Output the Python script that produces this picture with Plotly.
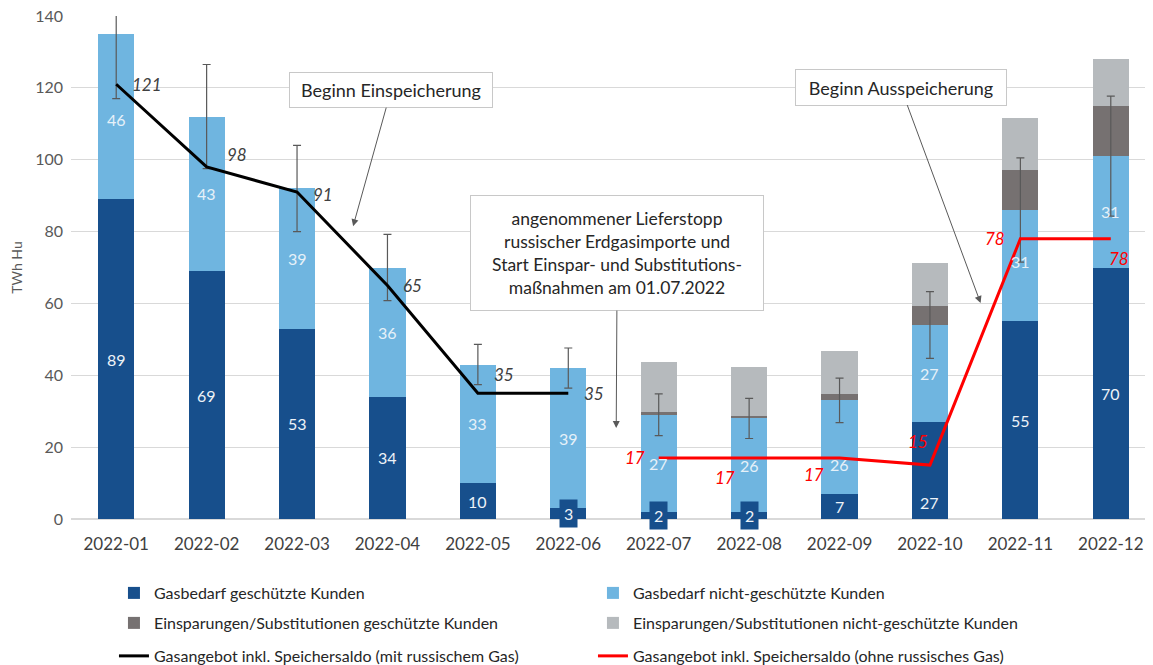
import plotly.graph_objects as go

# monthly gas balance 2022 (TWh Hu)
monate = ["2022-01", "2022-02", "2022-03", "2022-04", "2022-05", "2022-06",
          "2022-07", "2022-08", "2022-09", "2022-10", "2022-11", "2022-12"]
bedarf_geschuetzt = [89, 69, 53, 34, 10, 3, 2, 2, 7, 27, 55, 70]
bedarf_nicht_geschuetzt = [46, 43, 39, 36, 33, 39, 27, 26, 26, 27, 31, 31]
einsparung_geschuetzt = [0, 0, 0, 0, 0, 0, 0.7, 0.7, 1.8, 5.3, 11, 14]
einsparung_nicht_geschuetzt = [0, 0, 0, 0, 0, 0, 14, 13.5, 12, 12, 14.5, 13]
fehler = [18, 14.5, 12, 9.2, 5.6, 5.6, 5.8, 5.6, 6.2, 9.3, 14.5, 16.7]
angebot_mit_russ = [121, 98, 91, 65, 35, 35]
angebot_ohne_russ = [17, 17, 17, 15, 78, 78]

FONT = "Lato"
DUNKELBLAU = "#174f8c"
HELLBLAU = "#6fb5e0"
DUNKELGRAU = "#767171"
HELLGRAU = "#b6babd"

bedarf_summe = [a + b for a, b in zip(bedarf_geschuetzt, bedarf_nicht_geschuetzt)]

fig = go.Figure()

fig.add_trace(go.Bar(
    x=monate, y=bedarf_geschuetzt, name="Gasbedarf geschützte Kunden",
    marker=dict(color=DUNKELBLAU, line=dict(width=0)), legend="legend",
))
fig.add_trace(go.Bar(
    x=monate, y=bedarf_nicht_geschuetzt, name="Gasbedarf nicht-geschützte Kunden",
    marker=dict(color=HELLBLAU, line=dict(width=0)), legend="legend",
))
fig.add_trace(go.Bar(
    x=monate, y=einsparung_geschuetzt, name="Einsparungen/Substitutionen geschützte Kunden",
    marker=dict(color=DUNKELGRAU, line=dict(width=0)), legend="legend2",
))
fig.add_trace(go.Bar(
    x=monate, y=einsparung_nicht_geschuetzt, name="Einsparungen/Substitutionen nicht-geschützte Kunden",
    marker=dict(color=HELLGRAU, line=dict(width=0)), legend="legend2",
))

# error bars around total demand
fig.add_trace(go.Scatter(
    x=monate, y=bedarf_summe, mode="markers", marker=dict(size=1, opacity=0),
    error_y=dict(type="data", array=fehler, color="#595959", thickness=1.2, width=4),
    showlegend=False, hoverinfo="skip",
))

fig.add_trace(go.Scatter(
    x=monate[:6], y=angebot_mit_russ, mode="lines",
    name="Gasangebot inkl. Speichersaldo (mit russischem Gas)",
    line=dict(color="black", width=3), legend="legend3",
))
fig.add_trace(go.Scatter(
    x=monate[6:], y=angebot_ohne_russ, mode="lines",
    name="Gasangebot inkl. Speichersaldo (ohne russisches Gas)",
    line=dict(color="#ff0000", width=3), legend="legend3",
))

annotations = []

# segment labels, centred in the segment; a few are nudged as in the original
dunkel_shift = [0, 0, 0, 0, 0, 0, 0, 0, 0, -32, 0, 0]
hell_shift = [-3, 0, 0, 0, 0, 0, 0, 0, -17, 0, 4, 0]
for m, v, ys in zip(monate, bedarf_geschuetzt, dunkel_shift):
    small = v < 5
    annotations.append(dict(
        x=m, y=v / 2, text=str(v), showarrow=False, yshift=ys,
        bgcolor=DUNKELBLAU if small else None, borderpad=4 if small else 1,
        font=dict(color="#eef3f8", size=16, family=FONT),
    ))
for m, b, v, ys in zip(monate, bedarf_geschuetzt, bedarf_nicht_geschuetzt, hell_shift):
    annotations.append(dict(
        x=m, y=b + v / 2, text=str(v), showarrow=False, yshift=ys,
        font=dict(color="#e6f1f9", size=16, family=FONT),
    ))

# italic value labels next to the supply lines (anchor, xshift, yshift)
schwarz_pos = [("left", 14, 0), ("left", 18, 12), ("left", 14, -2),
               ("left", 14, 0), ("left", 14, 19), ("left", 14, 0)]
rot_pos = [("right", -12, 0), ("right", -12, -20), ("right", -14, -17),
           ("center", -12, 24), ("right", -13, 0), ("center", 8, -20)]
for m, v, (xa, xs, ys) in zip(monate[:6], angebot_mit_russ, schwarz_pos):
    annotations.append(dict(x=m, y=v, text=str(v), showarrow=False, xanchor=xa,
                            xshift=xs, yshift=ys,
                            font=dict(color="#404040", size=17, family=FONT, style="italic")))
for m, v, (xa, xs, ys) in zip(monate[6:], angebot_ohne_russ, rot_pos):
    annotations.append(dict(x=m, y=v, text=str(v), showarrow=False, xanchor=xa,
                            xshift=xs, yshift=ys,
                            font=dict(color="#ff0000", size=17, family=FONT, style="italic")))

box = dict(bgcolor="white", bordercolor="#c8c8c8", borderwidth=1,
           font=dict(color="#262626", size=18, family=FONT),
           arrowcolor="#595959", arrowwidth=1, arrowhead=2, arrowsize=1.4,
           showarrow=True, axref="pixel", ayref="pixel", standoff=0)
annotations.append(dict(box, x=2.62, y=81.5, ax=38, ay=-136,
                        text="Beginn Einspeicherung", width=194, height=26, borderpad=4))
annotations.append(dict(box, x=5.53, y=25.3, ax=1, ay=-175,
                        text="angenommener Lieferstopp<br>russischer Erdgasimporte und<br>"
                             "Start Einspar- und Substitutions-<br>maßnahmen am 01.07.2022",
                        width=284, height=106, borderpad=4,
                        font=dict(color="#262626", size=17.5, family=FONT)))
annotations.append(dict(box, x=9.56, y=60.1, ax=-80, ay=-216,
                        text="Beginn Ausspeicherung", width=202, height=27, borderpad=4))

legend_base = dict(orientation="h", xanchor="left", yanchor="middle",
                   xref="container", yref="container", x=0.0919,
                   font=dict(size=16, color="#262626", family=FONT),
                   entrywidth=434, entrywidthmode="pixels", bgcolor="rgba(0,0,0,0)",
                   itemclick=False, traceorder="normal")

fig.update_layout(
    width=1153, height=665,
    # page body adds an 8px offset, margins compensate for it
    margin=dict(l=63, r=5, t=8, b=154, autoexpand=False),
    barmode="stack", bargap=0.6,
    plot_bgcolor="white", paper_bgcolor="white",
    font=dict(family=FONT, color="#595959"),
    annotations=annotations,
    legend=dict(legend_base, y=0.1203),
    legend2=dict(legend_base, y=0.0752),
    legend3=dict(legend_base, y=0.0256),
    xaxis=dict(type="category", range=[-0.5, 11.5], automargin=False, showgrid=False,
               showline=True, linecolor="#d9d9d9", linewidth=1,
               tickfont=dict(size=17, color="#404040", family=FONT), ticks="",
               ticklabelstandoff=10),
    yaxis=dict(range=[0, 140], dtick=20, automargin=False, showgrid=True,
               gridcolor="#d9d9d9", gridwidth=1,
               zeroline=True, zerolinecolor="#d9d9d9",
               tickfont=dict(size=16, color="#595959", family=FONT), ticks="",
               ticklabelstandoff=7, ticklabeloverflow="allow",
               title=dict(text="TWh Hu", font=dict(size=14, color="#595959", family=FONT), standoff=13)),
)

fig.write_html("out.html")
